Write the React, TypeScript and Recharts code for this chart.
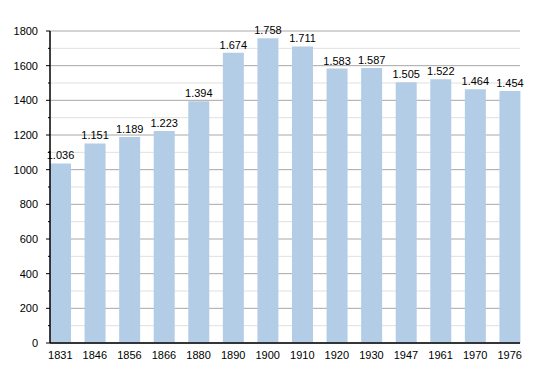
import { BarChart, Bar, XAxis, YAxis, CartesianGrid, LabelList } from 'recharts';

const years = ['1831', '1846', '1856', '1866', '1880', '1890', '1900', '1910', '1920', '1930', '1947', '1961', '1970', '1976'];
const population = [1036, 1151, 1189, 1223, 1394, 1674, 1758, 1711, 1583, 1587, 1505, 1522, 1464, 1454];
const yTicks = [0, 100, 200, 300, 400, 500, 600, 700, 800, 900, 1000, 1100, 1200, 1300, 1400, 1500, 1600, 1700, 1800];

const data = years.map((year, i) => ({ year, value: population[i] }));

const fmt = (v: number) => {
  const s = String(v);
  return s.length > 3 ? s.slice(0, s.length - 3) + '.' + s.slice(-3) : s;
};

const font = 'Liberation Sans, Arial, sans-serif';

// major ticks every 200 get a label and a longer tick mark
const YTick = (props: any) => {
  const { y, payload } = props;
  const major = payload.value % 200 === 0;
  return (
    <g>
      <line x1={50 - (major ? 4 : 2)} x2={50} y1={y} y2={y} stroke="#000" />
      {major && (
        <text x={38} y={y} dy={4} textAnchor="end" fontSize={11} fill="#000" fontFamily={font}>
          {payload.value}
        </text>
      )}
    </g>
  );
};

const GridLine = (props: any) => {
  const { x1, x2, y1, y2, index } = props;
  const major = index % 2 === 0;
  return <line key={`g-${index}`} x1={x1} x2={x2} y1={y1} y2={y2} stroke={major ? '#a8a8a8' : '#e0e0e0'} strokeWidth={1} />;
};

export default function App() {
  return (
    <div style={{ position: 'absolute', left: 0, top: 0, background: '#fff' }}>
      <BarChart
        width={550}
        height={373}
        data={data}
        margin={{ top: 31, right: 30, bottom: 0, left: 0 }}
        barSize={21}
      >
        <CartesianGrid horizontal={GridLine} vertical={false} />
        <XAxis
          dataKey="year"
          height={30}
          padding={{ left: -7, right: -7 }}
          axisLine={{ stroke: '#000', strokeWidth: 1.5 }}
          tickLine={false}
          tickMargin={2}
          tick={{ fontSize: 11, fill: '#000', fontFamily: font }}
          interval={0}
        />
        <YAxis
          width={50}
          domain={[0, 1800]}
          ticks={yTicks}
          interval={0}
          axisLine={{ stroke: '#000', strokeWidth: 1.5 }}
          tickLine={false}
          tick={<YTick />}
        />
        <Bar dataKey="value" fill="#b4cde6" isAnimationActive={false}>
          <LabelList
            dataKey="value"
            position="top"
            offset={4}
            formatter={(v: any) => fmt(Number(v))}
            style={{ fontSize: 11, fill: '#000', fontFamily: font }}
          />
        </Bar>
      </BarChart>
    </div>
  );
}
